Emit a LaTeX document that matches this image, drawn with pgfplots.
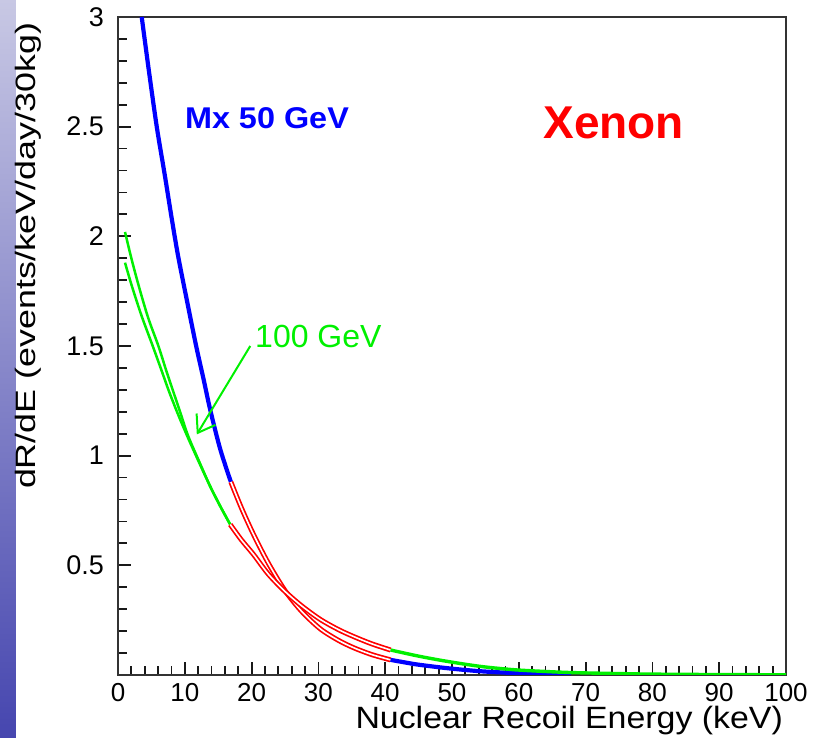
\documentclass[border=0pt]{standalone}
\usepackage{fontspec}
\setmainfont{Liberation Sans}
\usepackage{pgfplots}
\pgfplotsset{compat=1.18}
\usetikzlibrary{arrows.meta}
\definecolor{pawblue}{RGB}{0,0,255}
\definecolor{pawred}{RGB}{255,0,0}
\definecolor{pawgreen}{RGB}{0,240,0}
\definecolor{stripA}{RGB}{200,200,228}
\definecolor{stripB}{RGB}{70,70,175}

\begin{document}
\begin{tikzpicture}
\useasboundingbox (-59pt,-31.5pt) rectangle (348pt,337.5pt);
% textured slide strip on the left
\shade[top color=stripA, bottom color=stripB] (-59pt,-31.5pt) rectangle (-51pt,337.5pt);
\begin{axis}[
    scale only axis,
    width=334pt, height=329pt,
    xmin=0, xmax=100, ymin=0, ymax=3,
    xtick={0,10,...,100},
    ytick={0,0.5,1,1.5,2,2.5,3},
    yticklabels={,0.5,1,1.5,2,2.5,3},
    minor x tick num=4, minor y tick num=4,
    tick align=inside, tick pos=left,
    major tick length=6.5pt, minor tick length=4.5pt,
    every tick/.style={black!90, line width=0.9pt},
    axis line style={black!80, line width=1.1pt},
    yticklabel style={font=\fontsize{13.5}{15}\selectfont, xshift=-3.5pt},
    xticklabel style={font=\fontsize{13}{15}\selectfont, inner sep=1pt, yshift=-3pt},
    /pgf/number format/assume math mode=true,
    xlabel={\scalebox{1.1}[1]{Nuclear Recoil Energy (keV)}},
    xlabel style={font=\fontsize{15.4}{17}\selectfont, inner sep=0pt, at={(axis description cs:0.996,-0.081)}, anchor=base east},
    ylabel={\scalebox{1.28}[1]{dR/dE (events/keV/day/30kg)}},
    ylabel style={font=\fontsize{14}{16}\selectfont, at={(axis description cs:-0.134,0.637)}, anchor=center},
]
% Mx 50 GeV, low energy part
\addplot[pawblue, line width=2.1pt, smooth] coordinates {
    (3.55,3.0) (4.6,2.76) (5.8,2.5) (7.0,2.28) (8.05,2.08) (9.0,1.91)
    (10.3,1.71) (11.7,1.50) (12.8,1.35) (13.8,1.21) (15.3,1.03) (16.9,0.88)};
% 100 GeV, low energy part (two curves)
\addplot[pawgreen, line width=1.25pt, smooth] coordinates {
    (1.05,2.02) (2.0,1.90) (3.05,1.78) (4.5,1.63) (6.05,1.50) (7.2,1.39)
    (8.3,1.29) (9.4,1.19) (10.5,1.09) (12.2,0.97) (13.8,0.86) (15.3,0.77) (16.8,0.686)};
\addplot[pawgreen, line width=1.25pt, smooth] coordinates {
    (1.05,1.88) (2.05,1.776) (3.5,1.64) (5.2,1.50) (6.5,1.39) (7.7,1.288)
    (9.1,1.18) (10.5,1.08) (12.2,0.965) (13.8,0.86) (15.3,0.77) (16.8,0.686)};
% middle part, both masses
\addplot[pawred, line width=0.85pt, double=white, double distance=0.8pt, smooth] coordinates {
    (16.9,0.88) (18.5,0.76) (20.3,0.64) (22.5,0.51) (25,0.385) (27.5,0.29)
    (30.3,0.21) (33,0.158) (35.3,0.124) (38,0.093) (40.8,0.069)};
\addplot[pawred, line width=0.85pt, double=white, double distance=0.8pt, smooth] coordinates {
    (16.8,0.686) (18.5,0.615) (20.3,0.549) (22.5,0.46) (25,0.381) (27.5,0.315)
    (30.3,0.253) (33,0.207) (35.3,0.175) (38,0.142) (40.8,0.114)};
% tails
\addplot[pawblue, line width=2.1pt, smooth] coordinates {
    (40.8,0.069) (43,0.057) (45,0.047) (49.3,0.031) (54.3,0.017) (60,0.008)
    (64,0.004) (67.8,0.002)};
\addplot[pawgreen, line width=1.7pt, smooth] coordinates {
    (40.8,0.114) (45,0.086) (49.3,0.062) (54.3,0.039) (59.3,0.024) (64,0.016)
    (68,0.011) (74,0.007) (80,0.004) (90,0.002) (100,0.001)};

\node[pawblue, font=\bfseries\fontsize{15}{17}\selectfont] at (axis cs:22.3,2.54) {\scalebox{1.08}[1]{Mx 50 GeV}};
\node[pawred, font=\bfseries\fontsize{23}{26}\selectfont] at (axis cs:74.2,2.515) {Xenon};
\node[pawgreen, font=\fontsize{16}{18}\selectfont] at (axis cs:30.0,1.545) {100 GeV};
\draw[pawgreen, line width=1pt, -{Straight Barb[length=8pt,width=11pt]}] (axis cs:19.8,1.50) -- (axis cs:11.8,1.097);
\end{axis}
\end{tikzpicture}
\end{document}
